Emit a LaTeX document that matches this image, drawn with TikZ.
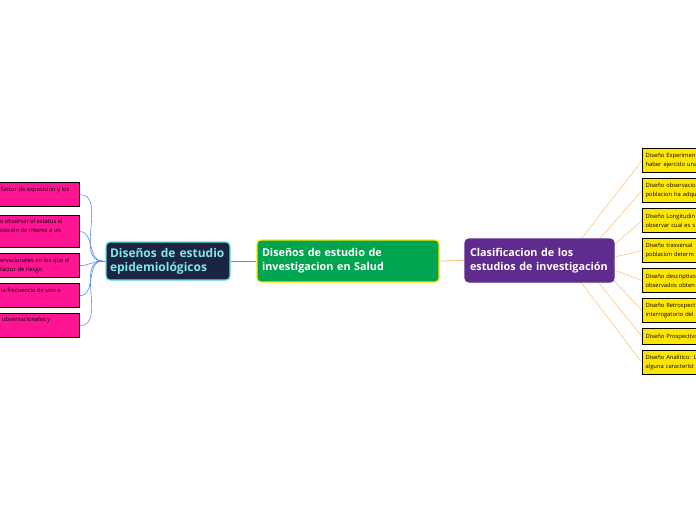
\documentclass[tikz,border=0pt]{standalone}
\usepackage{fontspec}
\setmainfont{Open Sans}
\usetikzlibrary{calc,backgrounds}
\definecolor{epink}{RGB}{255,20,147}
\definecolor{eyellow}{RGB}{255,230,0}
\definecolor{egreen}{RGB}{0,165,80}
\definecolor{epurple}{RGB}{96,43,142}
\definecolor{enavy}{RGB}{27,37,65}
\definecolor{ecyan}{RGB}{92,225,230}
\definecolor{ecyantext}{RGB}{128,232,232}
\definecolor{eblue}{RGB}{90,140,240}
\definecolor{eorange}{RGB}{255,190,110}

\begin{document}
\begin{tikzpicture}[x=1pt, y=-1pt,
  topic/.style={rounded corners=4pt, line width=1.2pt, align=left, inner sep=0pt, text=white, font=\bfseries\fontsize{10.8}{14}\selectfont},
  pinkbox/.style={draw=black, line width=1.2pt, fill=epink, anchor=north east, minimum width=140pt, minimum height=24pt},
  pinktext/.style={inner sep=0pt, anchor=north west, align=left, font=\fontsize{5.8}{8.5}\selectfont},
  ybox/.style={draw=black, line width=1.2pt, fill=eyellow, anchor=north west, text width=100pt, align=left, inner sep=3pt, minimum height=24pt, font=\fontsize{5.8}{9}\selectfont},
  bline/.style={draw=eblue, line width=0.6pt},
  oline/.style={draw=eorange, line width=0.5pt},
]
\useasboundingbox (0,0) rectangle (696,520);
\clip (0,0) rectangle (696,520);

% main topics
\node[topic, fill=egreen, draw=eyellow, minimum width=182pt, minimum height=42pt, text width=172pt] (ctr) at (348,261) {Diseños de estudio de\\investigacion en Salud};
\node[topic, fill=enavy, draw=ecyan, text=ecyantext, minimum width=124pt, minimum height=38pt, text width=116pt, font=\bfseries\fontsize{12}{14}\selectfont] (epi) at (168,261) {Diseños de estudio\\epidemiológicos};
\node[topic, fill=epurple, draw=epurple, minimum width=149pt, minimum height=43pt, text width=139pt] (clas) at (539.5,260.5) {Clasificacion de los\\estudios de investigación};

% left branch
\node[pinkbox] (f1) at (80,182) {};
\node[pinkbox, minimum height=32pt] (f2) at (80,215) {};
\node[pinkbox] (f3) at (80,253) {};
\node[pinkbox] (f4) at (80,283) {};
\node[pinkbox] (f5) at (80,313) {};
\node[pinktext] (f1t) at (1,187) {factor de exposición y los};
\node[pinktext] (f2t) at (0,219) {e observar el estatus el\\osición de interes a un};
\node[pinktext] (f3t) at (0,258) {ervacionales en los que el\\ factor de riesgo};
\node[pinktext] (f4t) at (1,288) {la frecuencia de uno o};
\node[pinktext] (f5t) at (2,317) {observacionales y};

% right branch
\node[ybox] (y1) at (642,148) {Diseño Experimen\\haber ejercido una};
\node[ybox] (y2) at (642,178) {Diseño observacio\\poblacion ha adqu};
\node[ybox] (y3) at (642,208) {Diseño Longitudin\\observar cual es s};
\node[ybox] (y4) at (642,238) {Diseño trasversal\\poblacion determ};
\node[ybox] (y5) at (642,268) {Diseño descriptivo\\observados obten};
\node[ybox] (y6) at (642,298) {Diseño Retrospect\\interrogatorio del};
\node[ybox, minimum height=16pt] (y7) at (642,328) {Diseño Prospectivo};
\node[ybox] (y8) at (642,350) {Diseño Analítico: L\\alguna característ};

\coordinate (lc) at (102,261);

\begin{scope}[on background layer]
\fill[white] (0,0) rectangle (696,520);
\draw[bline] (ctr.west) -- (epi.east);
\draw[oline, line width=0.8pt] (ctr.east) -- (clas.west);
\draw[bline] (epi.west) -- (lc);
\draw[bline] (lc) to[out=180, in=0] (f1.east);
\draw[bline] (lc) to[out=180, in=0] (f2.east);
\draw[bline] (lc) to[out=180, in=0] (f3.east);
\draw[bline] (lc) to[out=180, in=0] (f4.east);
\draw[bline] (lc) to[out=180, in=0] (f5.east);
\draw[oline] ($(clas.center)+(25,0)$) -- (y1.west);
\draw[oline] ($(clas.center)+(41,0)$) -- (y2.west);
\draw[oline] ($(clas.center)+(56,0)$) -- (y3.west);
\draw[oline] ($(clas.center)+(60,0)$) -- (y4.west);
\draw[oline] ($(clas.center)+(60,4)$) -- (y5.west);
\draw[oline] ($(clas.center)+(56,0)$) -- (y6.west);
\draw[oline] ($(clas.center)+(41,0)$) -- (y7.west);
\draw[oline] ($(clas.center)+(25,0)$) -- (y8.west);
\end{scope}
\end{tikzpicture}
\end{document}
